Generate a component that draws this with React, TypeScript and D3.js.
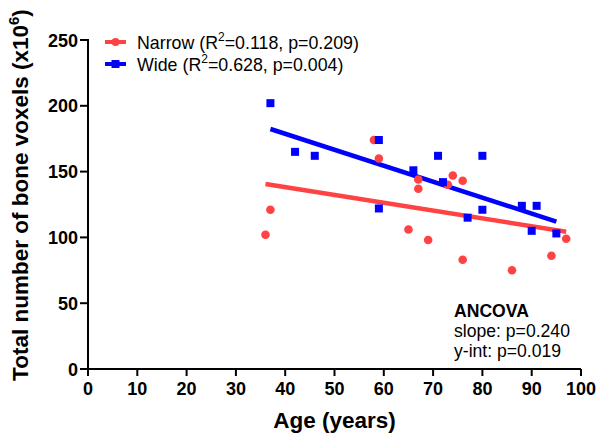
import React from "react";
import * as d3 from "d3";

const narrowAge = [36, 37, 58, 59, 65, 67, 67, 69, 73, 74, 76, 76, 86, 94, 97];
const narrowVox = [102, 121, 174, 160, 106, 144, 137, 98, 140, 147, 143, 83, 75, 86, 99];
const wideAge = [37, 42, 46, 59, 59, 66, 71, 72, 77, 80, 80, 88, 90, 91, 95];
const wideVox = [202, 165, 162, 174, 122, 151, 162, 142, 115, 162, 121, 124, 105, 124, 103];
// fitted lines: [slope, intercept]
const narrowFit = [-0.596, 162.1];
const wideFit = [-1.214, 227.3];
const xTicks = [0, 10, 20, 30, 40, 50, 60, 70, 80, 90, 100];
const yTicks = [0, 50, 100, 150, 200, 250];
const legendLabels = ["Narrow", "Wide"];
const legendStats = [["0.118", "0.209"], ["0.628", "0.004"]];
const ancova = ["ANCOVA", "slope: p=0.240", "y-int: p=0.019"];

const RED = "#ff4343";
const BLUE = "#0000ff";
const FONT = "'Liberation Sans', Arial, Helvetica, sans-serif";

export default function App() {
  const W = 599, H = 442;
  const x = d3.scaleLinear().domain([0, 100]).range([88, 581]);
  const y = d3.scaleLinear().domain([0, 250]).range([369, 40]);

  const fitLine = (ages: number[], fit: number[]) => {
    const a0 = d3.min(ages)!, a1 = d3.max(ages)!;
    return d3.line<[number, number]>().x((d) => x(d[0])).y((d) => y(d[1]))([
      [a0, fit[0] * a0 + fit[1]],
      [a1, fit[0] * a1 + fit[1]],
    ])!;
  };

  const colors = [RED, BLUE];
  return (
    <div style={{ position: "absolute", left: 0, top: 0 }}>
      <svg width={W} height={H} style={{ display: "block", background: "#fff" }} fontFamily={FONT}>
        {/* axes */}
        <line x1={x(0)} x2={x(100)} y1={y(0)} y2={y(0)} stroke="#000" strokeWidth={2} />
        <line x1={x(0)} x2={x(0)} y1={y(0) + 1} y2={y(250) - 1} stroke="#000" strokeWidth={2} />
        {xTicks.map((t) => (
          <g key={"x" + t}>
            <line x1={x(t)} x2={x(t)} y1={y(0)} y2={y(0) + 7} stroke="#000" strokeWidth={2} />
            <text x={x(t)} y={y(0) + 26} textAnchor="middle" fontSize={18} fontWeight="bold">{t}</text>
          </g>
        ))}
        {yTicks.map((t) => (
          <g key={"y" + t}>
            <line x1={x(0) - 8} x2={x(0)} y1={y(t)} y2={y(t)} stroke="#000" strokeWidth={2} />
            <text x={x(0) - 10} y={y(t) + 6.5} textAnchor="end" fontSize={18} fontWeight="bold">{t}</text>
          </g>
        ))}
        <text x={x(50)} y={428} textAnchor="middle" fontSize={22.5} fontWeight="bold">Age (years)</text>
        <text transform={`translate(28,195) rotate(-90)`} textAnchor="middle" fontSize={22.5} fontWeight="bold">
          Total number of bone voxels (x10<tspan dy={-9} fontSize={15}>6</tspan><tspan dy={9}>)</tspan>
        </text>

        {/* fit lines */}
        <path d={fitLine(narrowAge, narrowFit)} stroke={RED} strokeWidth={4.5} fill="none" />
        <path d={fitLine(wideAge, wideFit)} stroke={BLUE} strokeWidth={4.5} fill="none" />

        {/* points */}
        {narrowAge.map((a, i) => (
          <circle key={"n" + i} cx={x(a)} cy={y(narrowVox[i])} r={4.3} fill={RED} />
        ))}
        {wideAge.map((a, i) => (
          <rect key={"w" + i} x={x(a) - 4} y={y(wideVox[i]) - 4} width={8} height={8} fill={BLUE} />
        ))}

        {/* legend */}
        {legendLabels.map((lab, i) => {
          const ly = 42 + i * 22;
          return (
            <g key={lab}>
              <line x1={105} x2={126} y1={ly} y2={ly} stroke={colors[i]} strokeWidth={4} />
              {i === 0 ? (
                <circle cx={115.5} cy={ly} r={4} fill={colors[i]} />
              ) : (
                <rect x={111.5} y={ly - 4} width={8} height={8} fill={colors[i]} />
              )}
              <text x={137} y={ly + 6.5} fontSize={17.8}>
                {lab} (R<tspan dy={-8} fontSize={12}>2</tspan>
                <tspan dy={8}>={legendStats[i][0]}, p={legendStats[i][1]})</tspan>
              </text>
            </g>
          );
        })}

        {/* ANCOVA */}
        {ancova.map((t, i) => (
          <text key={t} x={454} y={317 + i * 20} fontSize={17.6} fontWeight={i === 0 ? "bold" : "normal"}>{t}</text>
        ))}
      </svg>
    </div>
  );
}
